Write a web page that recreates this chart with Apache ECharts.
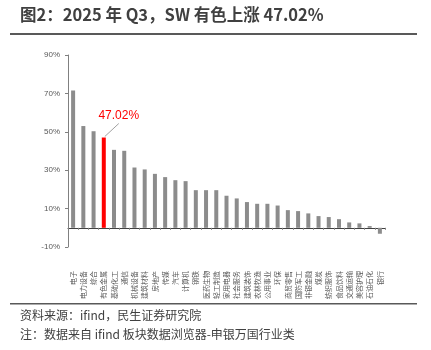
<!DOCTYPE html>
<html>
<head>
<meta charset="utf-8">
<script src="https://cdn.jsdelivr.net/npm/echarts@6/dist/echarts.min.js"></script>
<style>
  html, body { margin: 0; padding: 0; background: #fff; }
  #main { width: 431px; height: 350px; }
</style>
</head>
<body>
<div id="main"></div>
<script>
// 申万一级行业 2025Q3 涨跌幅（%）
const industries = ["电子", "电力设备", "综合", "有色金属", "基础化工", "通信", "机械设备", "建筑材料", "房地产", "传媒",
  "汽车", "计算机", "钢铁", "医药生物", "轻工制造", "家用电器", "社会服务", "建筑装饰", "农林牧渔", "公用事业",
  "环保", "商贸零售", "国防军工", "非银金融", "煤炭", "纺织服饰", "食品饮料", "交通运输", "美容护理", "石油石化", "银行"];
const changes = [71.5, 53.0, 50.3, 47.02, 40.6, 40.1, 31.4, 30.4, 28.1, 26.4,
  24.8, 24.3, 19.6, 19.6, 19.6, 16.7, 15.3, 13.4, 12.5, 12.5,
  11.6, 9.2, 8.7, 7.5, 6.1, 5.6, 4.5, 2.8, 2.3, 0.9, -3.1];
const highlight = "有色金属";
const yTicks = [-10, 10, 30, 50, 70, 90];

let myChart = echarts.init(document.getElementById("main"));

let hi = industries.indexOf(highlight);
let barData = changes.map((v, i) => {
  if (i !== hi) return v;
  return {
    value: v,
    itemStyle: { color: "#ff0000" },
    label: {
      show: true,
      formatter: "{c}%",
      position: "top",
      color: "#ff0000",
      fontSize: 12
    }
  };
});

let option = {
  animation: false,
  grid: { left: 68, right: 46, top: 55, bottom: 103 },
  graphic: [
    {
      type: "text", left: 20, top: 6,
      style: { text: "图2：2025 年 Q3，SW 有色上涨 47.02%", fontSize: 16.5, fontWeight: "bold", fill: "#404040",
        fontFamily: "Noto Sans CJK SC" }
    },
    { type: "rect", shape: { x: 10, y: 33, width: 407, height: 2 }, style: { fill: "#595959" } },
    { type: "rect", shape: { x: 10, y: 303, width: 407, height: 1.5 }, style: { fill: "#595959" } },
    {
      type: "text", left: 20, top: 309,
      style: { text: "资料来源：ifind，民生证券研究院", fontSize: 12, fill: "#404040", fontFamily: "Noto Sans CJK SC" }
    },
    {
      type: "text", left: 20, top: 328,
      style: { text: "注：数据来自 ifind 板块数据浏览器-申银万国行业类", fontSize: 12, fill: "#404040", fontFamily: "Noto Sans CJK SC" }
    }
  ],
  xAxis: {
    type: "category",
    data: industries,
    axisLine: { show: true, lineStyle: { color: "#404040", width: 1 } },
    axisTick: { show: true, length: 2, lineStyle: { color: "#808080" } },
    axisLabel: {
      rotate: 90,
      interval: 0,
      margin: 24,
      fontSize: 7,
      color: "#595959",
      fontFamily: "Noto Sans CJK SC"
    }
  },
  yAxis: {
    type: "value",
    min: yTicks[0],
    max: yTicks[yTicks.length - 1],
    interval: 20,
    splitLine: { show: false },
    axisLine: { show: true, lineStyle: { color: "#808080" } },
    axisTick: { show: true, length: 3, lineStyle: { color: "#808080" } },
    axisLabel: { formatter: "{value}%", fontSize: 8, color: "#595959", margin: 8 }
  },
  series: [
    {
      type: "bar",
      data: barData,
      barWidth: 4,
      itemStyle: { color: "#8c8c8c" },
      labelLayout: { dx: 15, dy: -11 }
    },
    {
      // 引导线：从红色柱顶斜向右上指向标签
      type: "custom",
      silent: true,
      z: 10,
      data: [[hi, changes[hi]]],
      renderItem: (params, api) => {
        let p = api.coord([api.value(0), api.value(1)]);
        return {
          type: "line",
          shape: { x1: p[0] + 1, y1: p[1] - 1, x2: p[0] + 15, y2: p[1] - 14 },
          style: { stroke: "#a0a0a0", lineWidth: 1, fill: null }
        };
      }
    }
  ]
};

myChart.setOption(option, true);
</script>
</body>
</html>
